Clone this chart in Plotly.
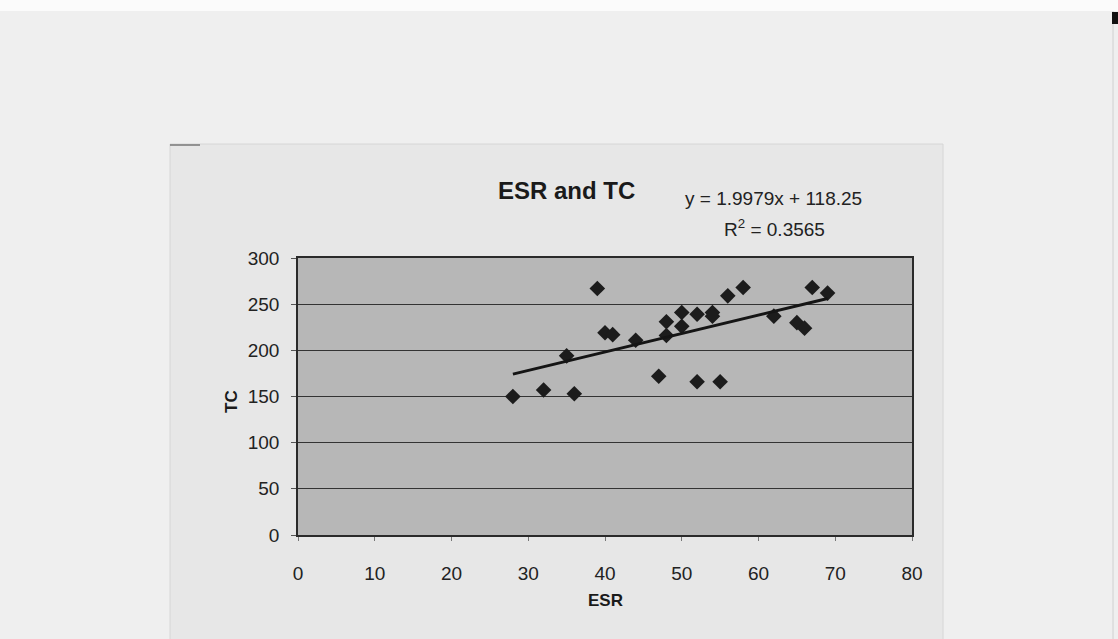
import plotly.graph_objects as go

# ---- data ----
esr = [28, 32, 35, 36, 39, 40, 41, 44, 47, 48, 48, 50, 50, 52, 52, 54, 54, 55, 56, 58, 62, 65, 66, 67, 69]
tc = [150, 157, 194, 153, 267, 219, 217, 211, 172, 231, 216, 241, 226, 239, 166, 241, 237, 166, 259, 268, 237, 230, 224, 268, 262]
slope = 1.9979
intercept = 118.25
r_squared = 0.3565
x_ticks = [0, 10, 20, 30, 40, 50, 60, 70, 80]
y_ticks = [0, 50, 100, 150, 200, 250, 300]

W, H = 1118, 639
L, R, T, B = 298, 912, 258, 535  # plot-area pixel box
pw, ph = R - L, B - T


def px(x):
    return (x - L) / pw


def py(y):
    return (B - y) / ph


FONT = "Liberation Sans, Arial, sans-serif"

trend_x = [min(esr), max(esr)]
trend_y = [slope * v + intercept for v in trend_x]

fig = go.Figure()
fig.add_trace(go.Scatter(x=esr, y=tc, mode="markers",
                         marker=dict(symbol="diamond", size=12, color="#1c1c1c",
                                     line=dict(width=0)),
                         showlegend=False))
fig.add_trace(go.Scatter(x=trend_x, y=trend_y, mode="lines",
                         line=dict(color="#151515", width=3),
                         showlegend=False))

shapes = [
    # white strip at very top of the scan
    dict(type="rect", xref="paper", yref="paper", x0=px(0), x1=px(W), y0=py(0), y1=py(11),
         fillcolor="#fbfbfb", line=dict(width=0), layer="below"),
    # chart area
    dict(type="rect", xref="paper", yref="paper", x0=px(170), x1=px(943), y0=py(144), y1=py(W),
         fillcolor="#e7e7e7", line=dict(color="#d6d6d6", width=1), layer="below"),
    # short dark mark at chart-area top-left corner
    dict(type="line", xref="paper", yref="paper", x0=px(170), x1=px(200), y0=py(145), y1=py(145),
         line=dict(color="#777777", width=1.5)),
    # plot area fill
    dict(type="rect", xref="paper", yref="paper", x0=0, x1=1, y0=0, y1=1,
         fillcolor="#b7b7b7", line=dict(width=0), layer="below"),
    # right paper edge
    dict(type="line", xref="paper", yref="paper", x0=px(1113), x1=px(1113), y0=py(11), y1=py(639),
         line=dict(color="#d0d0d0", width=1)),
    dict(type="rect", xref="paper", yref="paper", x0=px(1112), x1=px(1118), y0=py(12), y1=py(24),
         fillcolor="#111111", line=dict(width=0)),
]

annotations = [
    dict(text="<b>ESR and TC</b>", x=px(566), y=py(190), xref="paper", yref="paper",
         showarrow=False, font=dict(family=FONT, size=24, color="#1a1a1a"),
         xanchor="center", yanchor="middle"),
    dict(text=f"y = {slope}x + {intercept}", x=px(773), y=py(198), xref="paper", yref="paper",
         showarrow=False, font=dict(family=FONT, size=19, color="#222222"),
         xanchor="center", yanchor="middle"),
    dict(text=f"R<sup>2</sup> = {r_squared}", x=px(774), y=py(228), xref="paper", yref="paper",
         showarrow=False, font=dict(family=FONT, size=19, color="#222222"),
         xanchor="center", yanchor="middle"),
    dict(text="<b>TC</b>", x=px(231), y=py(402), xref="paper", yref="paper", textangle=-90,
         showarrow=False, font=dict(family=FONT, size=17, color="#1a1a1a"),
         xanchor="center", yanchor="middle"),
    dict(text="<b>ESR</b>", x=px(605), y=py(600), xref="paper", yref="paper",
         showarrow=False, font=dict(family=FONT, size=17, color="#1a1a1a"),
         xanchor="center", yanchor="middle"),
]

fig.update_layout(
    width=W, height=H,
    margin=dict(l=L, r=W - R, t=T, b=H - B, pad=0),
    paper_bgcolor="#efefef",
    plot_bgcolor="rgba(0,0,0,0)",
    shapes=shapes,
    annotations=annotations,
    xaxis=dict(range=[0, 80], tickvals=x_ticks, showgrid=False, zeroline=False,
               showline=True, linecolor="#2a2a2a", linewidth=1.5, mirror=True,
               ticks="outside", ticklen=4, tickcolor="#777777",
               ticklabelstandoff=16,
               tickfont=dict(family=FONT, size=19, color="#222222")),
    yaxis=dict(range=[0, 300], tickvals=y_ticks, showgrid=True, gridcolor="#333333", gridwidth=1,
               zeroline=False, showline=True, linecolor="#2a2a2a", linewidth=1.5, mirror=True,
               ticks="outside", ticklen=5, tickcolor="#555555",
               ticklabelstandoff=8,
               tickfont=dict(family=FONT, size=19, color="#222222")),
)

fig.write_html("out.html")
